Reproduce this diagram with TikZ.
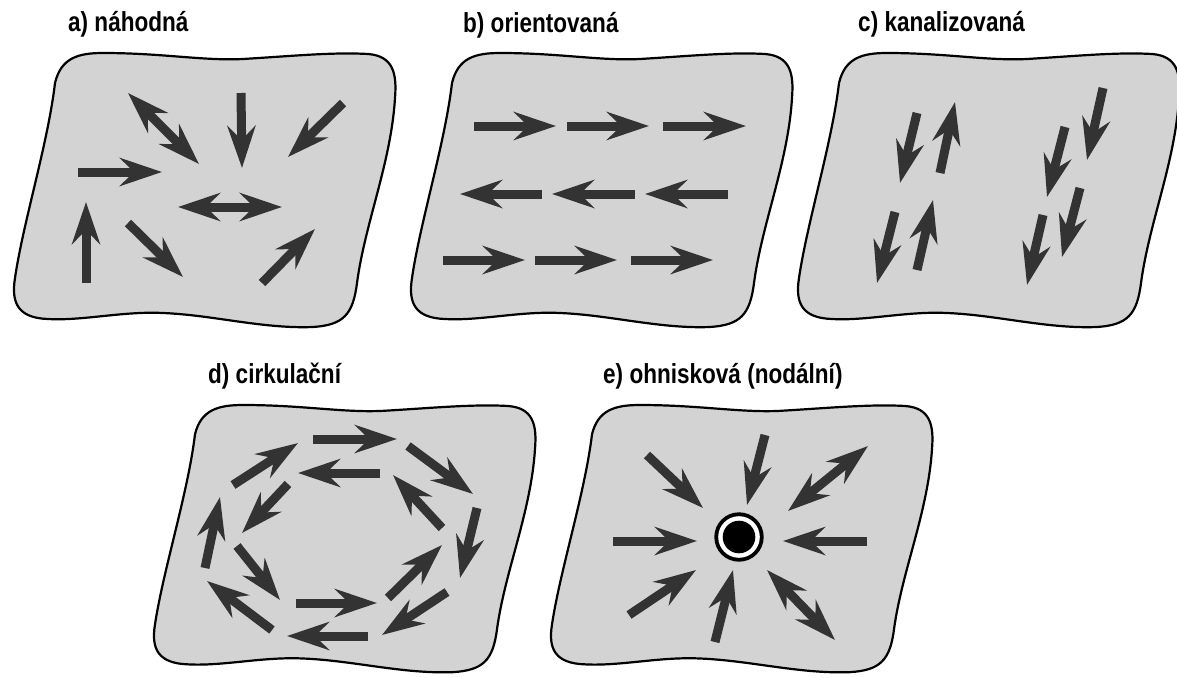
\documentclass[tikz,border=0pt]{standalone}
\usepackage{fontspec}
\newfontfamily\labf{Liberation Sans}[FakeStretch=0.82]
\usetikzlibrary{arrows.meta}
\definecolor{blobfill}{HTML}{D3D3D3}
\definecolor{arrcol}{HTML}{333333}
\tikzset{
  blobst/.style={fill=blobfill, draw=black, line width=2.2pt},
  arr/.style={draw=arrcol, line width=9pt, -{Stealth[length=42pt,width=28pt,inset=14pt]}},
  darr/.style={draw=arrcol, line width=9pt, {Stealth[length=42pt,width=28pt,inset=14pt]}-{Stealth[length=42pt,width=28pt,inset=14pt]}},
  lab/.style={anchor=base west, inner sep=0pt, font=\labf\bfseries\fontsize{27.5}{30}\selectfont}
}
\newcommand\blobat[3]{%
  \begin{scope}[shift={(#1,#2)}, yscale=#3]
    \draw[blobst] (42,30) .. controls (48,5) and (65,0) .. (90,0)
      .. controls (150,0) and (190,8) .. (230,6)
      .. controls (280,3) and (320,-1) .. (355,1)
      .. controls (380,3) and (384,20) .. (382,45)
      .. controls (378,110) and (352,170) .. (344,230)
      .. controls (340,262) and (330,272) .. (300,274)
      .. controls (250,276) and (200,262) .. (150,260)
      .. controls (110,258) and (70,268) .. (35,266)
      .. controls (5,265) and (-2,250) .. (2,225)
      .. controls (10,170) and (35,90) .. (42,30) -- cycle;
  \end{scope}}
\begin{document}
\begin{tikzpicture}[x=1pt, y=-1pt]
\useasboundingbox (0,0) rectangle (1177,677);
\clip (0,0) rectangle (1177,677);
\fill[white] (0,0) rectangle (1177,677);

% blobs
\blobat{13}{53}{1}
\blobat{410}{53}{1}
\blobat{797}{53}{1}
\blobat{153}{405}{0.975}
\blobat{550}{405}{0.975}

% labels
\node[lab] (la) at (68,32) {a) náhodná};
\node[lab] (lb) at (463,33) {b) orientovaná};
\node[lab] (lc) at (858,32) {c) kanalizovaná};
\node[lab] (ld) at (208,383) {d) cirkulační};
\node[lab] (le) at (603,383) {e) ohnisková (nodální)};

% a) random
\draw[darr] (128,93) -- (199,164);
\draw[arr] (241,93) -- (242,168);
\draw[arr] (343,103) -- (288,157);
\draw[arr] (78,172) -- (162,172);
\draw[darr] (178,207) -- (282,207);
\draw[arr] (86,283) -- (86,202);
\draw[arr] (128,223) -- (183,277);
\draw[arr] (262,283) -- (315,229);

% b) oriented
\draw[arr] (474,126) -- (556,126);
\draw[arr] (567,126) -- (649,126);
\draw[arr] (663,126) -- (746,126);
\draw[arr] (542,194) -- (460,194);
\draw[arr] (635,194) -- (552,194);
\draw[arr] (728,194) -- (645,194);
\draw[arr] (443,260) -- (525,260);
\draw[arr] (535,260) -- (617,260);
\draw[arr] (631,260) -- (713,260);

% c) channelled
\draw[arr] (917,113) -- (900,183);
\draw[arr] (940,173) -- (955,102);
\draw[arr] (895,212) -- (877,283);
\draw[arr] (917,270) -- (933,200);
\draw[arr] (1103,88) -- (1087,160);
\draw[arr] (1065,127) -- (1047,197);
\draw[arr] (1080,188) -- (1062,257);
\draw[arr] (1043,215) -- (1027,285);

% d) circulation
\draw[arr] (313,439) -- (397,439);
\draw[arr] (233,485) -- (298,443);
\draw[arr] (380,473) -- (298,473);
\draw[arr] (408,446) -- (473,494);
\draw[arr] (288,484) -- (242,533);
\draw[arr] (442,528) -- (393,475);
\draw[arr] (477,508) -- (460,578);
\draw[arr] (205,568) -- (220,497);
\draw[arr] (237,546) -- (280,600);
\draw[arr] (388,598) -- (442,545);
\draw[arr] (296,603) -- (377,603);
\draw[arr] (447,592) -- (382,635);
\draw[arr] (272,630) -- (207,581);
\draw[arr] (368,636) -- (287,636);

% e) focal
\fill[black] (739,537) circle[radius=24.7];
\fill[white] (739,537) circle[radius=20.8];
\fill[black] (739,537) circle[radius=16.3];
\draw[arr] (647,455) -- (703,508);
\draw[arr] (765,435) -- (747,505);
\draw[darr] (868,446) -- (788,511);
\draw[arr] (613,541) -- (697,541);
\draw[arr] (867,541) -- (783,541);
\draw[arr] (629,615) -- (696,570);
\draw[arr] (715,642) -- (733,570);
\draw[darr] (767,570) -- (835,640);
\end{tikzpicture}
\end{document}
